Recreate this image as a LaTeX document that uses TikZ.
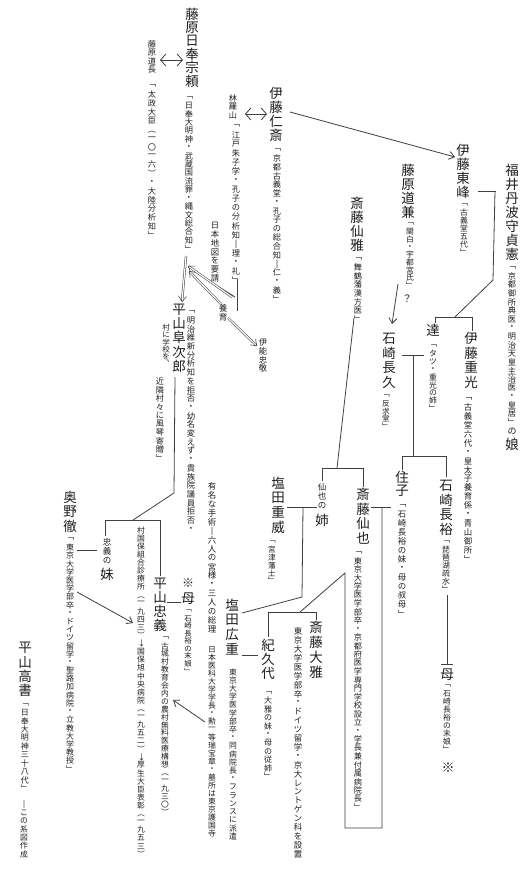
\documentclass[tikz,border=0pt]{standalone}
\usepackage{graphicx}
\usepackage{fontspec}
\usetikzlibrary{arrows.meta}
\newfontfamily\jp{Noto Sans CJK JP}
\definecolor{ink}{gray}{0.12}
\definecolor{lnc}{gray}{0.25}
\makeatletter
\newdimen\vt@p
\newdimen\vt@f
% \V{font size px}{pitch px}{characters}
\newcommand\V[3]{%
  \begingroup\vt@f=0.75\dimexpr#1pt\relax\vt@p=0.75\dimexpr#2pt\relax
  \jp\fontsize{\the\vt@f}{\the\vt@f}\selectfont
  \vbox{\offinterlineskip\@tfor\vt@c:=#3\do{\hbox to\vt@p{\hss\vbox to\vt@p{\vss\hbox{\vt@c}\vss}\hss}}}%
  \endgroup}
\makeatother
\newcommand\rp[1]{\rotatebox[origin=c]{-90}{#1}}
\tikzset{
  vt/.style={inner sep=0pt, anchor=north, text=ink},
  ln/.style={draw=lnc, line width=0.6pt},
  ar/.style={ln, -{Straight Barb[length=4pt,width=6pt]}},
  dar/.style={ln, {Straight Barb[length=4pt,width=9pt]}-{Straight Barb[length=4pt,width=9pt]}},
  dbl/.style={draw=lnc, line width=0.4pt, double=white, double distance=0.9pt, -{Straight Barb[length=4pt,width=6pt]}}
}
\begin{document}
\begin{tikzpicture}[x=0.75pt,y=-0.75pt]
\fill[white] (0,0) rectangle (529,877);
\useasboundingbox (0,0) rectangle (529,877);
% ---------- nodes ----------
\node[vt] (sohyori) at (192,7) {\V{13.5}{13.4}{藤原日奉宗頼}};
\node[vt] (sohyoriA) at (189,93) {\V{8.2}{8.4}{﹁日奉大明神・武蔵国流罪・縄文総合知﹂}};
\node[vt] (michinaga) at (152,40) {\V{8.2}{8.5}{藤原道長}};
\node[vt] (michinagaA) at (152,81) {\V{8.2}{8.8}{﹁太政大臣{\rp{（}}一〇一六{\rp{）}}・大陸分析知﹂}};
\node[vt] (razan) at (233,94) {\V{8.2}{8.4}{林羅山}};
\node[vt] (razanA) at (236,121) {\V{8.2}{9.1}{﹁江戸朱子学・孔子の分析知‖理・礼﹂}};
\node[vt] (jinsai) at (276,86) {\V{13.5}{14}{伊藤仁斎}};
\node[vt] (jinsaiA) at (277,145) {\V{8.2}{8.8}{﹁京都古義堂・孔子の総合知‖仁・義﹂}};
\node[vt] (senga) at (357,196) {\V{13.5}{14}{斎藤仙雅}};
\node[vt] (sengaA) at (358,254) {\V{8.2}{8.7}{﹁舞鶴藩漢方医﹂}};
\node[vt] (toho) at (463,143) {\V{13.5}{14}{伊藤東峰}};
\node[vt] (tohoA) at (464,201) {\V{7.8}{7.8}{﹁古義堂五代﹂}};
\node[vt] (fukui) at (512,163) {\V{13.5}{14}{福井丹波守貞憲}};
\node[vt] (fukuiA) at (512,263) {\V{8.2}{8.6}{﹁京都御所典医・明治天皇主治医・皇居﹂}};
\node[vt] (fukuiB) at (512,427) {\V{9}{9}{の}};
\node[vt] (fukuiC) at (512,437) {\V{13.5}{14}{娘}};
\node[vt] (michikane) at (408,163) {\V{13.5}{14}{藤原道兼}};
\node[vt] (michikaneA) at (410,220) {\V{7.8}{7.7}{﹁関白・宇都宮氏﹂}};
\node[vt] (q) at (407,293) {\V{10}{11}{？}};
\node[vt] (nagahisa) at (389,331) {\V{13.5}{14.5}{石崎長久}};
\node[vt] (nagahisaA) at (386,392) {\V{7.6}{7.6}{﹁反求堂﹂}};
\node[vt] (tatsu) at (433,323) {\V{13.5}{14}{達}};
\node[vt] (tatsuA) at (433,342) {\V{7.8}{7.8}{﹁タツ・重光の姉﹂}};
\node[vt] (shigemitsu) at (471,331) {\V{13.5}{14.5}{伊藤重光}};
\node[vt] (shigemitsuA) at (468,394) {\V{8.4}{8.9}{﹁古義堂六代・皇太子養育係・青山御所﹂}};
\node[vt] (sumiko) at (402,470) {\V{13.5}{14}{住子}};
\node[vt] (sumikoA) at (402,501) {\V{8.4}{9}{﹁石崎長裕の妹・母の叔母﹂}};
\node[vt] (nagahiro) at (446,478) {\V{13.5}{14.5}{石崎長裕}};
\node[vt] (nagahiroA) at (446,538) {\V{7.8}{7.8}{﹁琵琶湖疏水﹂}};
\node[vt] (hahaR) at (447,667) {\V{13.5}{14}{母}};
\node[vt] (hahaRA) at (447,682) {\V{7.8}{7.9}{﹁石崎長裕の末娘﹂}};
\node[vt] (komeR) at (448,760) {\V{13}{14}{※}};
\node[vt] (senya) at (363,487) {\V{13.5}{14.5}{斎藤仙也}};
\node[vt] (senyaA) at (358,548) {\V{8.2}{8.5}{﹁東京大学医学部卒・京都府医学専門学校設立・学長兼付属病院長﹂}};
\node[vt] (aneS) at (322,482) {\V{8.5}{9.5}{仙也の}};
\node[vt] (ane) at (322,513) {\V{13.5}{14}{姉}};
\node[vt] (shigetake) at (278,476) {\V{13.5}{14.5}{塩田重威}};
\node[vt] (shigetakeA) at (272,538) {\V{7.6}{7.7}{﹁宮津藩士﹂}};
\node[vt] (hiroshige) at (232,598) {\V{13.5}{14.5}{塩田広重}};
\node[vt] (hiroshigeA) at (233,668) {\V{7.8}{8.2}{東京大学医学部卒・同病院長・フランスに派遣}};
\node[vt] (hiroshigeB) at (212,482) {\V{8.4}{8.9}{有名な手術‖六人の宮様・三人の総理}};
\node[vt] (hiroshigeC) at (212,645) {\V{7.8}{8}{日本医科大学学長・勲一等瑞宝章・墓所は東京護国寺}};
\node[vt] (kikuyo) at (268,638) {\V{13.5}{14}{紀久代}};
\node[vt] (kikuyoA) at (268,688) {\V{8}{8.4}{﹁大雅の妹・母の従姉﹂}};
\node[vt] (taiga) at (316,620) {\V{13.5}{15}{斎藤大雅}};
\node[vt] (taigaA) at (298,627) {\V{8.4}{8.9}{東京大学医学部卒・ドイツ留学・京大レントゲン科を設置}};
\node[vt] (fujijiro) at (179,302) {\V{13.5}{14.2}{平山阜次郎}};
\node[vt] (fujijiroA) at (191,307) {\V{8.3}{8.7}{﹁明治維新分析知を拒否・幼名変えず・貴族院議員拒否・}};
\node[vt] (fujijiroB) at (166,324) {\V{7.5}{7.2}{村に学校を︑}};
\node[vt] (fujijiroC) at (160,377) {\V{8.2}{8.5}{近隣村々に風琴寄贈﹂}};
\node[vt] (nihonchizu) at (215,221) {\V{8.3}{8.8}{日本地図を要請}};
\node[vt] (yoiku) at (223,303) {\V{8.5}{9}{養育}};
\node[vt] (ino) at (263,338) {\V{8.3}{8.7}{伊能忠敬}};
\node[vt] (tadayoshi) at (160,577) {\V{13.5}{13.6}{平山忠義}};
\node[vt] (tadayoshiA) at (165,634) {\V{7.8}{7.9}{﹁古城村教育会内の農村無料医療構想{\rp{（}}一九三〇{\rp{）}}}};
\node[vt] (tadayoshiB) at (141,526) {\V{7.8}{8.1}{村国保組合診療所{\rp{（}}一九四三{\rp{）}}{\rp{→}}国保旭中央病院{\rp{（}}一九五二{\rp{）}}{\rp{→}}厚生大臣表彰{\rp{（}}一九五三{\rp{）}}}};
\node[vt] (komeL) at (188,576) {\V{12}{13}{※}};
\node[vt] (hahaL) at (188,591) {\V{13.5}{14}{母}};
\node[vt] (hahaLA) at (188,607) {\V{7.4}{7.5}{﹁石崎長裕の末娘﹂}};
\node[vt] (imoS) at (107,537) {\V{8.5}{9.3}{忠義の}};
\node[vt] (imo) at (107,567) {\V{13.5}{14}{妹}};
\node[vt] (okuno) at (70,490) {\V{13.5}{14.3}{奥野徹}};
\node[vt] (okunoA) at (70,535) {\V{8}{8.2}{﹁東京大学医学部卒・ドイツ留学・聖路加病院・立教大学教授﹂}};
\node[vt] (takafumi) at (25,641) {\V{13.5}{14}{平山高書}};
\node[vt] (takafumiA) at (25,700) {\V{8}{8.4}{﹁日奉大明神三十八代﹂}};
\node[vt] (takafumiB) at (24,800) {\V{7.8}{8.3}{‖この系図作成}};
% ---------- connector points ----------
\coordinate (p1a) at (160,60);  \coordinate (p1b) at (183,60);
\coordinate (p2a) at (245,114); \coordinate (p2b) at (267,114);
\coordinate (p3a) at (290,112); \coordinate (p3b) at (455,157);
\coordinate (p4a) at (186,256); \coordinate (p4b) at (182,302);
\coordinate (p5a) at (219,287); \coordinate (p5b) at (235,297);
\coordinate (p6a) at (237,279); \coordinate (p6b) at (237,311);
\coordinate (p7a) at (232,297); \coordinate (p7b) at (188,266);
\coordinate (p8a) at (221,304); \coordinate (p8b) at (189,271);
\coordinate (p9a) at (228,318); \coordinate (p9b) at (257,346);
\coordinate (m1a) at (478,191); \coordinate (m1b) at (496,191);
\coordinate (m1c) at (495,191); \coordinate (m1d) at (493,280); \coordinate (m1e) at (455,317);
\coordinate (b1a) at (435,317); \coordinate (b1b) at (472,317);
\coordinate (b1c) at (435,323); \coordinate (b1d) at (472,331);
\coordinate (k1a) at (398,284); \coordinate (k1b) at (392,324);
\coordinate (s1a) at (354,318); \coordinate (s1b) at (337,468);
\coordinate (b2a) at (322,468); \coordinate (b2b) at (363,468);
\coordinate (b2c) at (322,481); \coordinate (b2d) at (363,487);
\coordinate (m2a) at (402,355); \coordinate (m2b) at (424,355);
\coordinate (m2c) at (413,355); \coordinate (m2d) at (413,456);
\coordinate (b3a) at (402,456); \coordinate (b3b) at (446,456);
\coordinate (b3c) at (402,470); \coordinate (b3d) at (446,477);
\coordinate (h1a) at (447,595); \coordinate (h1b) at (447,664);
\coordinate (h1c) at (441,664); \coordinate (h1d) at (453,664);
\coordinate (m3a) at (287,507); \coordinate (m3b) at (317,507);
\coordinate (m3c) at (303,507); \coordinate (m3d) at (302,597); \coordinate (m3e) at (242,613);
\coordinate (r1a) at (371,507); \coordinate (r1b) at (391,507);
\coordinate (r1c) at (382,507); \coordinate (r1d) at (382,828); \coordinate (r1e) at (345,828);
\coordinate (r1f) at (345,573); \coordinate (r1g) at (300,612);
\coordinate (b4a) at (268,612); \coordinate (b4b) at (316,612);
\coordinate (b4c) at (268,637); \coordinate (b4d) at (316,620);
\coordinate (m4a) at (242,655); \coordinate (m4b) at (258,655);
\coordinate (a5a) at (205,722); \coordinate (a5b) at (173,700);
\coordinate (f1a) at (175,377); \coordinate (f1b) at (174,493); \coordinate (f1c) at (133,520);
\coordinate (b5a) at (105,520); \coordinate (b5b) at (160,520);
\coordinate (b5c) at (105,536); \coordinate (b5d) at (160,576);
\coordinate (m5a) at (77,550);  \coordinate (m5b) at (97,550);
\coordinate (a6a) at (77,592);  \coordinate (a6b) at (133,623);
\coordinate (m6a) at (167,602); \coordinate (m6b) at (181,602);
% ---------- connectors ----------
\draw[dar] (p1a) -- (p1b);
\draw[dar] (p2a) -- (p2b);
\draw[ar] (p3a) -- (p3b);
\draw[dbl] (p4a) -- (p4b);
\draw[ln] (p5a) -- (p5b);
\draw[ln] (p6a) -- (p6b);
\draw[dbl] (p7a) -- (p7b);
\draw[dbl] (p8a) -- (p8b);
\draw[dbl] (p9a) -- (p9b);
\draw[ln] (m1a) -- (m1b);
\draw[ln] (m1c) -- (m1d) -- (m1e);
\draw[ln] (b1a) -- (b1b);
\draw[ln] (b1a) -- (b1c);
\draw[ln] (b1b) -- (b1d);
\draw[ar] (k1a) -- (k1b);
\draw[ln] (s1a) -- (s1b);
\draw[ln] (b2a) -- (b2b);
\draw[ln] (b2a) -- (b2c);
\draw[ln] (b2b) -- (b2d);
\draw[ln] (m2a) -- (m2b);
\draw[ln] (m2c) -- (m2d);
\draw[ln] (b3a) -- (b3b);
\draw[ln] (b3a) -- (b3c);
\draw[ln] (b3b) -- (b3d);
\draw[ln] (h1a) -- (h1b);
\draw[ln] (h1c) -- (h1d);
\draw[ln] (m3a) -- (m3b);
\draw[ln] (m3c) -- (m3d) -- (m3e);
\draw[ln] (r1a) -- (r1b);
\draw[ln] (r1c) -- (r1d) -- (r1e) -- (r1f) -- (r1g);
\draw[ln] (b4a) -- (b4b);
\draw[ln] (b4a) -- (b4c);
\draw[ln] (b4b) -- (b4d);
\draw[ln] (m4a) -- (m4b);
\draw[ar] (a5a) -- (a5b);
\draw[ln] (f1a) -- (f1b) -- (f1c);
\draw[ln] (b5a) -- (b5b);
\draw[ln] (b5a) -- (b5c);
\draw[ln] (b5b) -- (b5d);
\draw[ln] (m5a) -- (m5b);
\draw[ar] (a6a) -- (a6b);
\draw[ln] (m6a) -- (m6b);
\end{tikzpicture}
\end{document}
